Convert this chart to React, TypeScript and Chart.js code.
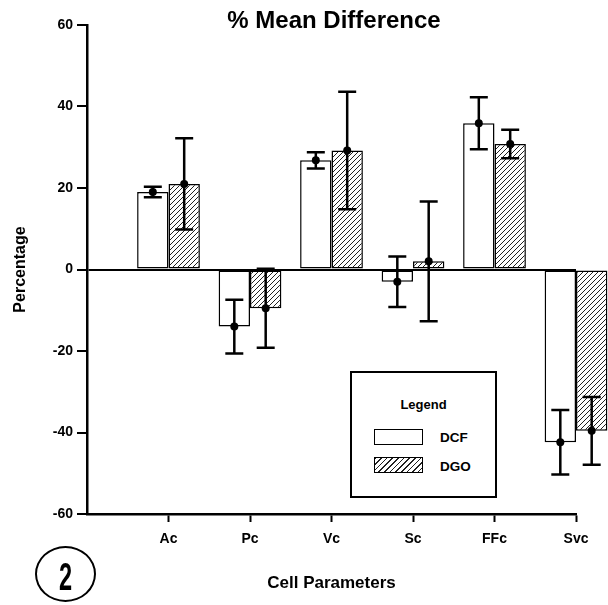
import React, { useEffect, useRef } from 'react';
import { Chart, registerables } from 'chart.js';

Chart.register(...registerables);

// ---- data ----
const categories = ['', 'Ac', 'Pc', 'Vc', 'Sc', 'FFc', 'Svc'];
const dcfValues = [null, 19, -14, 26.8, -3, 35.9, -42.4];
const dcfErrors = [null, 1.3, 6.6, 2, 6.2, 6.4, 7.9];
const dgoValues = [null, 21, -9.5, 29.2, 2, 30.8, -39.6];
const dgoErrors = [null, 11.2, 9.7, 14.4, 14.7, 3.5, 8.3];
const seriesNames = ['DCF', 'DGO'];
const yMin = -60;
const yMax = 60;
const yStep = 20;
const chartTitle = '% Mean Difference';
const xTitle = 'Cell Parameters';
const yTitle = 'Percentage';
const legendTitle = 'Legend';
const figureNumber = '2';

const FONT = '"Liberation Sans", Arial, Helvetica, sans-serif';
const HATCH_CSS = 'repeating-linear-gradient(135deg, #222 0px, #222 1px, #fff 1px, #fff 4px)';

const errorBarPlugin = {
  id: 'errorBars',
  afterDatasetsDraw(chart: any) {
    const { ctx } = chart;
    const yScale = chart.scales.y;
    chart.data.datasets.forEach((ds: any, di: number) => {
      const meta = chart.getDatasetMeta(di);
      meta.data.forEach((bar: any, i: number) => {
        const v = ds.data[i];
        const e = ds.errors ? ds.errors[i] : null;
        if (v == null || e == null) return;
        const x = bar.x;
        const yTop = yScale.getPixelForValue(v + e);
        const yBot = yScale.getPixelForValue(v - e);
        const yMid = yScale.getPixelForValue(v);
        ctx.save();
        ctx.strokeStyle = '#000';
        ctx.lineWidth = 2.5;
        ctx.beginPath();
        ctx.moveTo(x, yTop);
        ctx.lineTo(x, yBot);
        ctx.moveTo(x - 9, yTop);
        ctx.lineTo(x + 9, yTop);
        ctx.moveTo(x - 9, yBot);
        ctx.lineTo(x + 9, yBot);
        ctx.stroke();
        ctx.beginPath();
        ctx.arc(x, yMid, 4, 0, Math.PI * 2);
        ctx.fillStyle = '#000';
        ctx.fill();
        ctx.restore();
      });
    });
  },
};

export default function App() {
  const canvasRef = useRef<HTMLCanvasElement>(null);

  useEffect(() => {
    const canvas = canvasRef.current!;
    const tile = document.createElement('canvas');
    tile.width = 5;
    tile.height = 5;
    const t = tile.getContext('2d')!;
    t.fillStyle = '#fff';
    t.fillRect(0, 0, 5, 5);
    t.strokeStyle = '#222';
    t.lineWidth = 1;
    t.beginPath();
    t.moveTo(0, 5);
    t.lineTo(5, 0);
    t.moveTo(-1, 1);
    t.lineTo(1, -1);
    t.moveTo(4, 6);
    t.lineTo(6, 4);
    t.stroke();
    const hatch = canvas.getContext('2d')!.createPattern(tile, 'repeat');

    const tickFont = { family: FONT, size: 14, weight: 'bold' as const };

    const chart = new Chart(canvas, {
      type: 'bar',
      data: {
        labels: categories,
        datasets: [
          {
            label: seriesNames[0],
            data: dcfValues as any,
            errors: dcfErrors,
            backgroundColor: '#fff',
            borderColor: '#000',
            borderWidth: 1.5,
            borderSkipped: false,
            clip: false,
          } as any,
          {
            label: seriesNames[1],
            data: dgoValues as any,
            errors: dgoErrors,
            backgroundColor: hatch,
            borderColor: '#000',
            borderWidth: 1.5,
            borderSkipped: false,
            clip: false,
          } as any,
        ],
      },
      options: {
        responsive: false,
        animation: false,
        devicePixelRatio: 1,
        layout: { padding: { left: 0, top: 25, right: 32, bottom: 0 } },
        datasets: { bar: { categoryPercentage: 0.77, barPercentage: 1 } },
        plugins: {
          legend: { display: false },
          tooltip: { enabled: false },
          title: { display: false },
        },
        scales: {
          x: {
            type: 'category',
            offset: false,
            grid: {
              offset: false,
              drawOnChartArea: false,
              drawTicks: true,
              tickLength: 8,
              tickWidth: 2,
              tickColor: (c: any) => (c.index === 0 ? 'rgba(0,0,0,0)' : '#000'),
            },
            border: { display: true, color: '#000', width: 2.5 },
            ticks: { color: '#000', font: tickFont, padding: 9, maxRotation: 0, autoSkip: false },
            title: {
              display: true,
              text: xTitle,
              color: '#000',
              font: { family: FONT, size: 17, weight: 'bold' },
              padding: { top: 0, bottom: 11 },
            },
            afterFit: (s: any) => {
              s.height = 91;
            },
          } as any,
          y: {
            min: yMin,
            max: yMax,
            ticks: { stepSize: yStep, color: '#000', font: tickFont, padding: 4 },
            grid: {
              drawOnChartArea: true,
              color: (c: any) => (c.tick && c.tick.value === 0 ? '#000' : 'rgba(0,0,0,0)'),
              lineWidth: 2,
              drawTicks: true,
              tickLength: 10,
              tickWidth: 2,
              tickColor: '#000',
            },
            border: { display: true, color: '#000', width: 2.5 },
            title: {
              display: true,
              text: yTitle,
              color: '#000',
              font: { family: FONT, size: 16, weight: 'bold' },
              padding: { top: 11, bottom: 0 },
            },
            afterFit: (s: any) => {
              s.width = 87;
            },
          } as any,
        },
      },
      plugins: [errorBarPlugin],
    });
    return () => chart.destroy();
  }, []);

  const abs = (o: React.CSSProperties): React.CSSProperties => ({ position: 'absolute', ...o });

  return (
    <div style={abs({ left: 0, top: 0, width: 608, height: 605, background: '#fff', fontFamily: FONT, color: '#000' })}>
      <canvas ref={canvasRef} width={608} height={605} style={abs({ left: 0, top: 0, width: 608, height: 605 })} />
      <div
        style={abs({
          left: 134,
          top: 8,
          width: 400,
          textAlign: 'center',
          fontSize: 24,
          lineHeight: '24px',
          fontWeight: 'bold',
          whiteSpace: 'nowrap',
        })}
      >
        {chartTitle}
      </div>
      <div
        style={abs({
          left: 350,
          top: 371,
          width: 147,
          height: 127,
          boxSizing: 'border-box',
          border: '2px solid #000',
          background: '#fff',
        })}
      >
        <div style={abs({ left: 0, top: 25, width: 143, textAlign: 'center', fontSize: 13, lineHeight: '13px', fontWeight: 'bold' })}>
          {legendTitle}
        </div>
        <div
          style={abs({ left: 22, top: 56, width: 49, height: 16, boxSizing: 'border-box', border: '1.5px solid #000', background: '#fff' })}
        />
        <div style={abs({ left: 88, top: 58, fontSize: 13.5, lineHeight: '13.5px', fontWeight: 'bold' })}>{seriesNames[0]}</div>
        <div
          style={abs({ left: 22, top: 84, width: 49, height: 16, boxSizing: 'border-box', border: '1.5px solid #000', background: HATCH_CSS })}
        />
        <div style={abs({ left: 88, top: 87, fontSize: 13.5, lineHeight: '13.5px', fontWeight: 'bold' })}>{seriesNames[1]}</div>
      </div>
      <div
        style={abs({
          left: 35,
          top: 546,
          width: 61,
          height: 56,
          boxSizing: 'border-box',
          border: '2.5px solid #000',
          borderRadius: '50%',
          display: 'flex',
          alignItems: 'center',
          justifyContent: 'center',
        })}
      >
        <span style={{ display: 'inline-block', fontSize: 38, lineHeight: '38px', fontWeight: 'bold', transform: 'scaleX(0.62) translateY(3px)' }}>
          {figureNumber}
        </span>
      </div>
    </div>
  );
}
